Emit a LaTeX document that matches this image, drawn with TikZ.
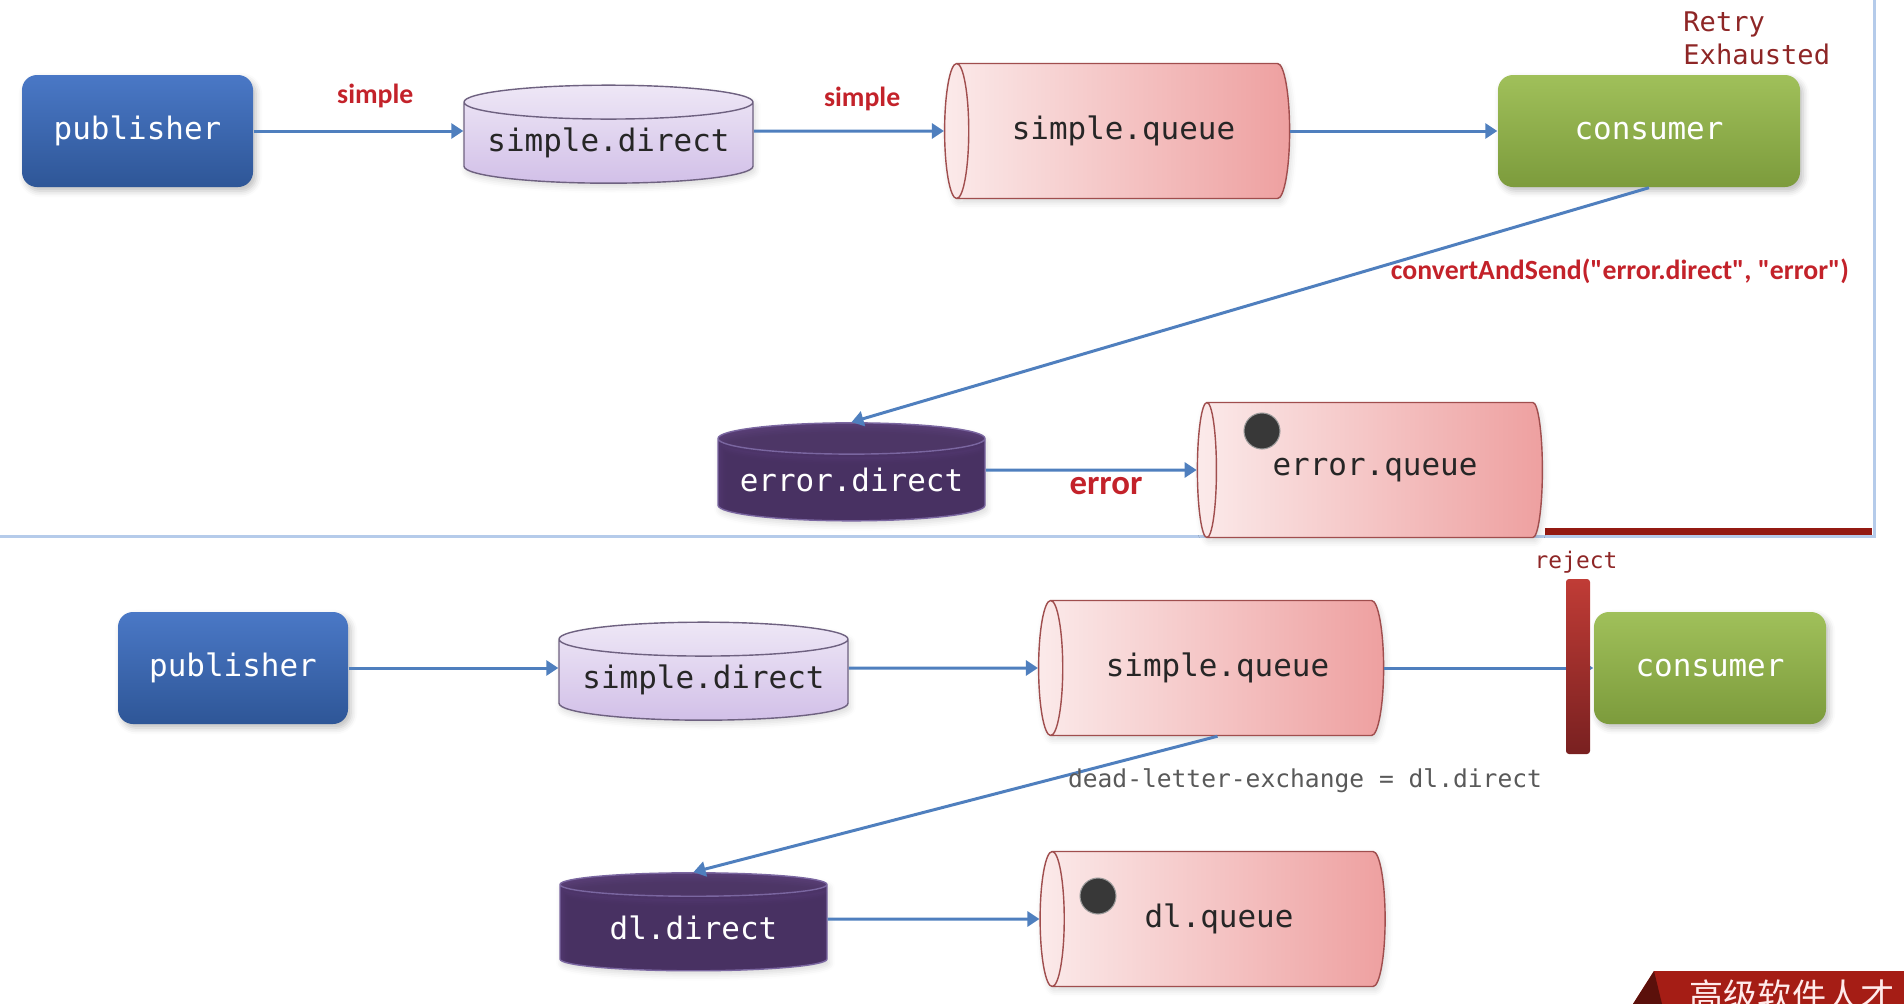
\documentclass[tikz,border=0pt]{standalone}
\usepackage{fontspec}
\setmonofont{DejaVu Sans Mono}
\setsansfont{Carlito}[Ligatures=TeXOff]
\newfontfamily\cjkfont{Noto Sans CJK SC}
\usetikzlibrary{shapes.geometric,arrows.meta,shadows.blur}
\begin{document}
\begin{tikzpicture}[
  box/.style={rounded corners=0.15cm, text=white, inner sep=0pt,
    font=\ttfamily\fontsize{8.8pt}{10pt}\selectfont,
    blur shadow={shadow xshift=0.03cm, shadow yshift=-0.04cm, shadow opacity=25, shadow blur steps=4}},
  pubbox/.style={box, top color=pubtop, bottom color=pubbot, minimum width=2.31cm, minimum height=1.12cm},
  conbox/.style={box, top color=contop, bottom color=conbot, minimum height=1.12cm},
  exch/.style={cylinder, shape border rotate=90, aspect=0.14, inner sep=0pt,
    minimum width=2.89cm, minimum height=0.98cm,
    font=\ttfamily\fontsize{8.8pt}{10pt}\selectfont,
    blur shadow={shadow xshift=0.02cm, shadow yshift=-0.04cm, shadow opacity=15, shadow blur steps=4}},
  exlite/.style={exch, draw=exline, line width=0.4pt, top color=extop, bottom color=exbot, text=black!85},
  exdark/.style={exch, minimum width=2.67cm, cylinder uses custom fill, cylinder body fill=exbody,
    cylinder end fill=exend, draw=exdline, line width=0.4pt, text=white},
  queue/.style={cylinder, shape border rotate=180, aspect=0.8, inner sep=0pt,
    minimum width=1.35cm, minimum height=3.45cm, draw=queline, line width=0.4pt,
    left color=quel, right color=quer, text=black!85,
    font=\ttfamily\fontsize{8.8pt}{10pt}\selectfont,
    blur shadow={shadow xshift=0.02cm, shadow yshift=-0.04cm, shadow opacity=15, shadow blur steps=4}},
  dot/.style={circle, fill=black!78, draw=black!40, line width=0.3pt, minimum size=0.36cm, inner sep=0pt},
  link/.style={draw=linkblue, line width=0.85pt, -{Triangle[length=0.12cm, width=0.15cm]}},
  redlabel/.style={text=labred, font=\sffamily\bfseries\fontsize{7.9pt}{9pt}\selectfont},
  note/.style={font=\ttfamily\fontsize{7pt}{9pt}\selectfont}
]
% Define colors
\definecolor{pubtop}{HTML}{4A78C6}
\definecolor{pubbot}{HTML}{2E5697}
\definecolor{contop}{HTML}{A0C05A}
\definecolor{conbot}{HTML}{7C9B3C}
\definecolor{extop}{HTML}{EEE7F6}
\definecolor{exbot}{HTML}{D2C0E8}
\definecolor{exline}{HTML}{6E6180}
\definecolor{exbody}{HTML}{553A74}
\definecolor{exend}{HTML}{5B4079}
\definecolor{exdline}{HTML}{7A66A0}
\definecolor{quel}{HTML}{FBEAEA}
\definecolor{quer}{HTML}{EEA0A0}
\definecolor{queline}{HTML}{A04E4E}
\definecolor{linkblue}{HTML}{4F7FBE}
\definecolor{labred}{HTML}{C3222A}
\definecolor{darkred}{HTML}{8E2626}
\definecolor{barred}{HTML}{C03C36}
\definecolor{panelline}{HTML}{B5CBEA}
\definecolor{banner}{HTML}{A51D15}
\useasboundingbox (0,0) rectangle (19.04,-10.04);

%%%%%%%%%%%%%% upper panel: retry exhausted
\draw[panelline, line width=0.03cm] (18.74,0) -- (18.74,-5.36) -- (0,-5.36);
\fill[banner!90!black] (15.45,-5.28) rectangle (18.72,-5.345);
% Define nodes
\node[pubbox] (pubA) at (1.375,-1.31) {publisher};
\node[exlite] (exA) at (6.085,-1.43) {simple.direct};
\node[queue] (queA) at (11.235,-1.31) {simple.queue};
\node[conbox, minimum width=3.02cm] (conA) at (16.49,-1.31) {consumer};
\node[note, text=darkred, align=left, anchor=west, font=\ttfamily\fontsize{7.7pt}{9.4pt}\selectfont]
  (retry) at (16.71,-0.385) {Retry\\Exhausted};
\node[exdark] (errX) at (8.515,-4.80) {error.direct};
\node[queue] (errQ) at (13.75,-4.70) {error.queue};
\node[dot] (errDot) at (12.62,-4.31) {};
% Draw arrows
\draw[link] (pubA) -- (pubA -| exA.west) node[pos=0.58, above=0.1cm, redlabel] {simple};
\draw[link] (queA -| exA.east) -- (queA) node[pos=0.57, above=0.07cm, redlabel] {simple};
\draw[link] (queA) -- (conA);
\draw[link] (conA.south) -- (errX.north);
\node[redlabel] (cvt) at (16.20,-2.71) {convertAndSend("error.direct", "error")};
\draw[link] (errQ -| errX.east) -- (errQ) node[pos=0.57, below=-0.06cm, redlabel, font=\sffamily\bfseries\fontsize{9.9pt}{11pt}\selectfont] {error};

%%%%%%%%%%%%%% lower panel: dead letter
\node[pubbox, minimum width=2.30cm] (pubB) at (2.33,-6.68) {publisher};
\node[exlite] (exB) at (7.035,-6.80) {simple.direct};
\node[queue] (queB) at (12.175,-6.68) {simple.queue};
\node[conbox, minimum width=2.32cm] (conB) at (17.10,-6.68) {consumer};
\node[exdark] (dlX) at (6.935,-9.28) {dl.direct};
\node[queue] (dlQ) at (12.19,-9.19) {dl.queue};
\node[dot] (dlDot) at (10.98,-8.96) {};
% Draw arrows
\draw[link] (pubB) -- (pubB -| exB.west);
\draw[link] (queB -| exB.east) -- (queB);
\draw[link] (queB) -- (conB);
\node[rounded corners=0.03cm, top color=barred, bottom color=darkred!85!black,
  minimum width=0.24cm, minimum height=1.75cm, inner sep=0pt] (rej) at (15.78,-6.665) {};
\node[note, text=darkred, font=\ttfamily\fontsize{6.5pt}{8pt}\selectfont] (rejlabel) at (15.76,-5.62) {reject};
\draw[link] (queB.south) -- (dlX.north);
\node[note, text=black!65] (dlx) at (13.05,-7.81) {dead-letter-exchange = dl.direct};
\draw[link] (dlQ -| dlX.east) -- (dlQ);

%%%%%%%%%%%%%% corner banner
\begin{scope}
\clip (0,0) rectangle (19.04,-10.04);
\fill[banner] (16.33,-10.04) -- (16.54,-9.71) -- (19.04,-9.71) -- (19.04,-10.04) -- cycle;
\fill[banner!55!black] (16.33,-10.04) -- (16.54,-9.71) -- (16.62,-10.04) -- cycle;
\node[text=white!92!red, font=\cjkfont\fontsize{9.7pt}{11pt}\selectfont] (brand) at (17.92,-9.96) {高级软件人才};
\end{scope}
\end{tikzpicture}
\end{document}
